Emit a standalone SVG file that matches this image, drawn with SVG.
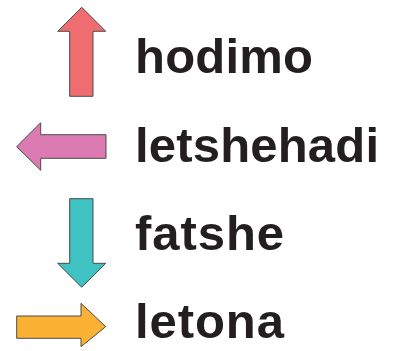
<svg xmlns="http://www.w3.org/2000/svg" width="393" height="351" viewBox="0 0 393 351">
<style>
.arr{stroke:#4a4a4a;stroke-width:1;stroke-linejoin:miter}
.lbl{font-family:"Liberation Sans",Arial,sans-serif;font-weight:bold;font-size:49px;fill:#231F20}
</style>
<rect width="393" height="351" fill="#fff"/>
<g id="up">
<polygon class="arr" fill="#EF6D70" points="81.7,7.3 105.7,31.3 93,31.3 93,96.3 69.7,96.3 69.7,31.3 57.7,31.3"/>
<text class="lbl" x="135" y="72.7" textLength="178" lengthAdjust="spacing">hodimo</text>
</g>
<g id="left">
<polygon class="arr" fill="#DC7BB1" points="16.7,146.7 40.7,122.7 40.7,134.7 106,134.7 106,158.3 40.7,158.3 40.7,170.3"/>
<text class="lbl" x="135" y="161.7" textLength="244" lengthAdjust="spacing">letshehadi</text>
</g>
<g id="down">
<polygon class="arr" fill="#3EC2C2" points="69.7,198.7 93,198.7 93,263.3 105.7,263.3 81.7,287.3 57.7,263.3 69.7,263.3"/>
<text class="lbl" x="135" y="250" textLength="149" lengthAdjust="spacing">fatshe</text>
</g>
<g id="right">
<polygon class="arr" fill="#FBB234" points="16.7,316 81,316 81,303.3 105.7,326.7 81,346.7 81,338.3 16.7,338.3"/>
<text class="lbl" x="135" y="338.3" textLength="149" lengthAdjust="spacing">letona</text>
</g>
</svg>
